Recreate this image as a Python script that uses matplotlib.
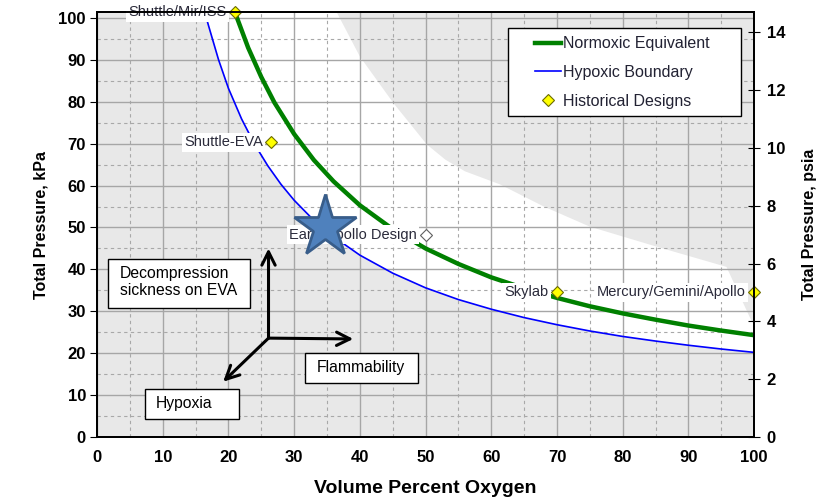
import numpy as np
import matplotlib.pyplot as plt
from matplotlib.patches import Rectangle

plt.rcParams['font.family'] = ['Liberation Sans', 'DejaVu Sans']

# hypoxic boundary (kPa vs vol % O2)
blue_x = [16.4, 17, 18.5, 20, 22, 24, 26, 28, 30, 33, 36, 40, 45, 50, 55, 60, 65, 70, 75, 80, 85, 90, 95, 100]
blue_y = [101.3, 98.0, 90.0, 83.2, 75.9, 69.8, 64.7, 60.3, 56.5, 51.7, 47.8, 43.4, 39.1, 35.6,
          32.8, 30.5, 28.5, 26.8, 25.3, 24.0, 22.9, 21.9, 21.0, 20.2]

# normoxic equivalent
green_x = [21, 23, 25, 27, 30, 33, 36, 40, 45, 50, 55, 60, 65, 70, 75, 80, 85, 90, 95, 100]
green_y = [101.3, 92.9, 85.9, 79.8, 72.3, 66.1, 61.0, 55.3, 49.6, 45.0, 41.3, 38.1, 35.5, 33.2,
           31.2, 29.5, 28.0, 26.6, 25.4, 24.3]

# upper edge of the white (acceptable) zone
zone_x = [36.5, 40.0, 45.1, 50.2, 53.0, 56.0, 61.3, 68.0, 75.0, 85.0, 95.8, 99.4, 100]
zone_y = [101.3, 90.8, 79.7, 69.8, 66.2, 63.4, 60.3, 55.0, 50.2, 45.5, 40.6, 28.4, 26.7]

designs = ['Shuttle/Mir/ISS', 'Shuttle-EVA', 'Skylab', 'Mercury/Gemini/Apollo']
design_o2 = [21, 26.5, 70, 100]
design_p = [101.3, 70.3, 34.5, 34.5]

early_name = 'Early Apollo Design'
early_o2 = 50
early_p = 48.3
star_o2 = 34.7
star_p = 50.2

KPA_PER_PSI = 6.895
txt_col = '#2A2A3A'

fig = plt.figure(figsize=(8.3, 4.99), dpi=100)
ax = fig.add_axes([0.1169, 0.1242, 0.7916, 0.8508])
ax.set_xlim(0, 100)
ax.set_ylim(0, 101.3)
ax.set_facecolor('#E8E8E8')

# white zone between hypoxic boundary and upper edge
ax.fill(np.r_[zone_x, blue_x[::-1]], np.r_[zone_y, blue_y[::-1]], color='white', lw=0, zorder=0.5)

ax.set_xticks(np.arange(0, 101, 10))
ax.set_xticks(np.arange(5, 100, 10), minor=True)
ax.set_yticks(np.arange(0, 101, 10))
ax.set_yticks(np.arange(5, 100, 10), minor=True)
ax.grid(which='major', color='#A6A6A6', lw=1.0, ls='-')
ax.grid(which='minor', color='#A8A8A8', lw=0.8, ls=(0, (3, 3)))
ax.tick_params(which='minor', length=0)
ax.tick_params(axis='x', which='major', length=0, pad=9, labelsize=12)
ax.tick_params(axis='y', which='major', length=5, direction='out', pad=3, labelsize=12)
for lab in ax.get_xticklabels() + ax.get_yticklabels():
    lab.set_fontweight('bold')
for sp in ax.spines.values():
    sp.set_linewidth(1.4)

g_line, = ax.plot(green_x, green_y, color='#008000', lw=3.2, zorder=3, label='Normoxic Equivalent')
b_line, = ax.plot(blue_x, blue_y, color='#0000FF', lw=1.2, zorder=3, label='Hypoxic Boundary')
d_pts, = ax.plot(design_o2, design_p, ls='none', marker='D', ms=6.5, mfc='#FFFF00', mec='#6B6B00',
                 mew=0.8, zorder=6, clip_on=False, label='Historical Designs')

for name, x, y in zip(designs, design_o2, design_p):
    ax.annotate(name, (x, y), xytext=(-6, 0), textcoords='offset points', ha='right', va='center',
                fontsize=10.5, color=txt_col, zorder=4, annotation_clip=False,
                bbox=dict(boxstyle='square,pad=0.15', fc='white', ec='none'))

ax.plot([early_o2], [early_p], ls='none', marker='D', ms=6.5, mfc='white', mec='#606060', mew=0.8, zorder=6)
ax.annotate(early_name, (early_o2, early_p), xytext=(-6, 0), textcoords='offset points', ha='right',
            va='center', fontsize=10.5, color=txt_col, zorder=4,
            bbox=dict(boxstyle='square,pad=0.15', fc='white', ec='none'))
ax.plot([star_o2], [star_p], ls='none', marker='*', ms=47, mfc='#4F81BD', mec='#385D8A', mew=2, zorder=7)

# arrows
orig = (26.1, 23.6)
for tip in [(26.1, 45.0), (39.0, 23.4), (19.2, 13.2)]:
    ax.annotate('', xy=tip, xytext=orig, zorder=5,
                arrowprops=dict(arrowstyle='->', lw=2.2, color='black', mutation_scale=24,
                                shrinkA=0, shrinkB=0))

# text boxes
boxes = [((1.7, 30.9), 21.6, 11.6), ((31.6, 13.0), 17.3, 7.0), ((7.3, 4.2), 14.3, 7.2)]
for (bx, by), bw, bh in boxes:
    ax.add_patch(Rectangle((bx, by), bw, bh, fc='white', ec='black', lw=1.0, zorder=5))
ax.text(3.5, 36.9, 'Decompression\nsickness on EVA', ha='left', va='center', fontsize=11.3,
        linespacing=1.15, zorder=6)
ax.text(40.2, 16.6, 'Flammability', ha='center', va='center', fontsize=11.3, zorder=6)
ax.text(13.3, 8.0, 'Hypoxia', ha='center', va='center', fontsize=11.3, zorder=6)

# legend
ax.add_patch(Rectangle((0.6256, 0.756), 0.3544, 0.2075, transform=ax.transAxes, fc='white',
                       ec='black', lw=1.0, zorder=8))
leg = ax.legend(handles=[g_line, b_line, d_pts], loc='upper left', bbox_to_anchor=(0.6667, 0.944),
                frameon=False, fontsize=11.5, handlelength=1.6, handletextpad=0.15,
                labelspacing=0.86, borderpad=0, borderaxespad=0)
leg.set_zorder(9)
for t in leg.get_texts():
    t.set_color('#222233')

ax.set_xlabel('Volume Percent Oxygen', fontsize=14, fontweight='bold', labelpad=11)
ax.set_ylabel('Total Pressure, kPa', fontsize=11.5, fontweight='bold', labelpad=7)

ax2 = ax.twinx()
ax2.set_ylim(0, 101.3 / KPA_PER_PSI)
ax2.set_yticks(np.arange(0, 15, 2))
ax2.tick_params(axis='y', length=8, direction='inout', pad=5, labelsize=12)
for lab in ax2.get_yticklabels():
    lab.set_fontweight('bold')
for sp in ax2.spines.values():
    sp.set_linewidth(1.4)
ax2.set_ylabel('Total Pressure, psia', fontsize=11.5, fontweight='bold', labelpad=12)

fig.savefig('out.png', dpi=100)
